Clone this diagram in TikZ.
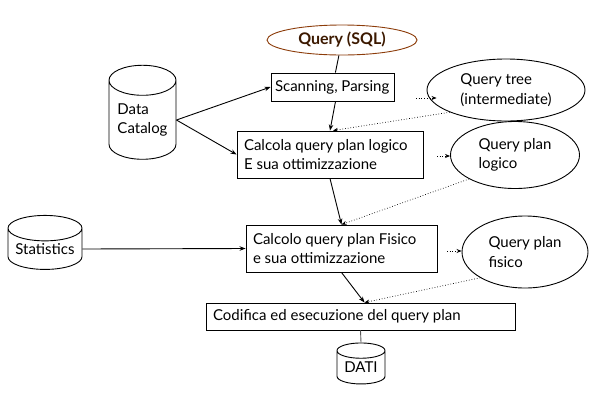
\documentclass[tikz,border=0pt]{standalone}
\usepackage{fontspec}
\setmainfont{Lato}
\usetikzlibrary{shapes.geometric, arrows.meta}
\definecolor{sqlbrown}{RGB}{140,60,10}
\definecolor{sqltext}{RGB}{60,25,0}

\begin{document}
\begin{tikzpicture}[x = 1pt, y = -1pt, line width = 0.9pt,
  font = \fontsize{15}{19.5}\selectfont,
  box/.style = {draw, rectangle, align = flush left, inner xsep = 7pt, inner ysep = 0pt},
  bubble/.style = {draw, ellipse, align = left, inner sep = 0pt},
  store/.style = {draw, cylinder, shape border rotate = 90, align = left, inner sep = 0pt},
  flow/.style = {-{Stealth[length = 6pt, width = 4.5pt]}},
  hint/.style = {dotted, line width = 0.7pt, -{Stealth[length = 5pt, width = 4pt]}}]
  \useasboundingbox (0, 0) rectangle (613, 400);
  \node[bubble, draw = sqlbrown, text = sqltext, font = \fontsize{16}{19}\selectfont\bfseries,
    minimum width = 150pt, minimum height = 30pt] (sql) at (342, 40) {Query (SQL)};
  \node[box, inner xsep = 4pt, text width = 115pt, minimum height = 28pt] (scan) at (332.5, 87) {Scanning, Parsing};
  \node[box, text width = 172pt, minimum height = 47pt] (calc) at (330, 154.5) {Calcola query plan logico\\E sua ottimizzazione};
  \node[box, text width = 177pt, minimum height = 47pt] (calco) at (341.5, 248.5) {Calcolo query plan Fisico\\e sua ottimizzazione};
  \node[box, text width = 295pt, minimum height = 27pt] (cod) at (360.5, 316.5) {Codifica ed esecuzione del query plan};
  \node[bubble, minimum width = 158pt, minimum height = 62pt] (tree) at (506, 90) {Query tree\\(intermediate)};
  \node[bubble, minimum width = 129pt, minimum height = 67pt] (logico) at (515, 155) {Query plan\\logico};
  \node[bubble, minimum width = 126pt, minimum height = 72pt] (fisico) at (525, 252) {Query plan\\fisico};
  \node[store, minimum width = 67pt, minimum height = 94pt, aspect = 0.6] (dc) at (142.5, 120) {Data\\Catalog};
  \node[store, minimum width = 74pt, minimum height = 54pt, aspect = 0.43] (stats) at (45, 249) {Statistics};
  \node[store, minimum width = 48pt, minimum height = 41pt, aspect = 0.46] (dati) at (361, 367.5) {DATI};
  \coordinate (t1) at (416, 98);
  \coordinate (l1) at (437, 156);
  \coordinate (f1) at (447, 251);
  \draw (sql) -- (scan);
  \draw[flow] (dc.east) -- (scan.west);
  \draw[flow] (dc.east) -- (calc.west);
  \draw[flow] (stats.east) -- (calco.west);
  \draw[flow] ([xshift = 3pt]scan.south) -- (calc.north);
  \draw[flow] (calc.south) -- (calco.north);
  \draw[flow] (calco.south) -- ([xshift = 4pt]cod.north);
  \draw[gray!70!black] (cod.south) -- (dati.north);
  \draw[hint, shorten >= -10pt] (t1) -- (t1 -| tree.west);
  \draw[hint] (l1) -- (l1 -| logico.west);
  \draw[hint] (f1) -- (f1 -| fisico.west);
  \draw[hint] (tree.south west) -- ([xshift = 3pt]calc.north);
  \draw[hint] (logico.south west) -- (calco.north);
  \draw[hint] (fisico.south west) -- ([xshift = 4pt]cod.north);
\end{tikzpicture}
\end{document}
